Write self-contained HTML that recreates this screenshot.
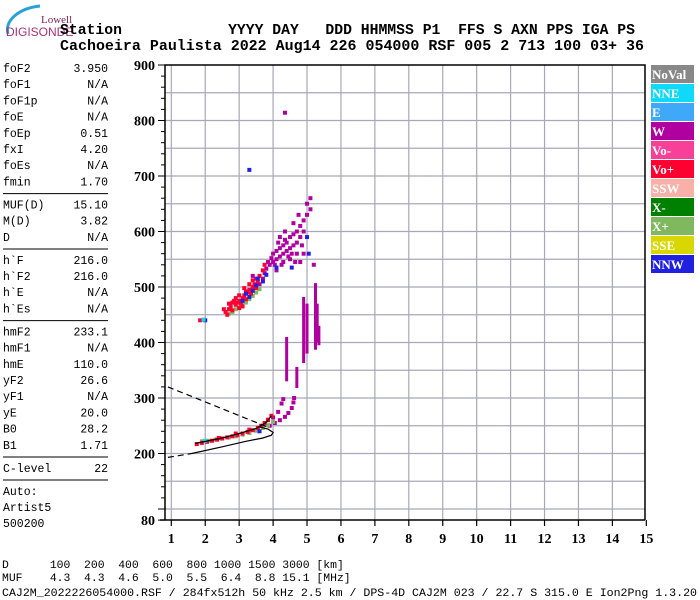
<!DOCTYPE html>
<html><head><meta charset="utf-8"><style>
html,body{margin:0;padding:0;background:#fff;}
svg{display:block;}
text{white-space:pre;}
.mono{font-family:"Liberation Mono",monospace;}
.hdr{font-family:"Liberation Mono",monospace;font-weight:bold;font-size:14.7px;}
.ax{font-family:"Liberation Serif",serif;font-weight:bold;font-size:14px;}
.lg{font-family:"Liberation Serif",serif;font-weight:bold;font-size:13px;fill:#fff;}
</style></head><body>
<svg id="c" width="700" height="600" xmlns="http://www.w3.org/2000/svg"></svg>
<script>
const xTicks=[1,2,3,4,5,6,7,8,9,10,11,12,13,14,15];
const yTicks=[80,200,300,400,500,600,700,800,900];
const paramNames=["foF2","foF1","foF1p","foE","foEp","fxI","foEs","fmin","-","MUF(D)","M(D)","D","-","h`F","h`F2","h`E","h`Es","-","hmF2","hmF1","hmE","yF2","yF1","yE","B0","B1","-","C-level","-"];
const paramValues=["3.950","N/A","N/A","N/A","0.51","4.20","N/A","1.70","","15.10","3.82","N/A","","216.0","216.0","N/A","N/A","","233.1","N/A","110.0","26.6","N/A","20.0","28.2","1.71","","22",""];
const legendNames=["NoVal","NNE","E","W","Vo-","Vo+","SSW","X-","X+","SSE","NNW"];
const legendColors=["#888888","#10d8f8","#40a8f8","#b000a0","#f84098","#ff0030","#f8b0a8","#008000","#80b860","#d8d800","#2020e0"];
const redPts=[[1.75,217],[1.9,219],[2.05,221],[2.2,223],[2.35,225],[2.5,227],[2.65,229],[2.8,231],[2.95,233],[3.1,236],[3.25,239],[3.4,242],[3.55,246],[3.65,250],[3.75,255],[3.85,261],[3.95,268],[2.4,228],[2.9,236],[3.3,243],
[2.6,455],[2.7,460],[2.75,465],[2.8,458],[2.9,468],[2.95,472],[3.0,475],[3.05,470],[3.1,480],[3.15,485],[3.2,478],[3.25,490],[3.3,495],[3.35,488],[3.4,500],[3.45,505],[3.5,498],[3.55,510],[2.85,475],[3.0,485],[3.2,492],[3.3,505],[1.85,440],[1.95,441],[2.7,470],[3.1,465],[3.4,512],[3.6,520],[3.7,530],[3.75,540],[3.0,462],[2.65,450],[2.55,460],[2.9,480],[3.15,498],[2.8,472]];
const greenPts=[[2.7,452],[2.8,455],[2.9,460],[3.0,463],[3.1,468],[3.2,472],[3.3,478],[3.4,484],[3.5,490],[3.6,496],
[1.9,222],[2.1,223],[2.3,225],[2.5,227],[2.7,229],[2.9,231],[3.1,234],[3.3,237],[3.5,241],[3.7,246],[3.85,251],[4.0,257]];
const bluePts=[[2.0,440],[3.1,475],[3.2,488],[3.3,482],[3.4,493],[3.5,503],[3.55,515],[3.7,510],[3.8,522],[4.1,535],[3.3,711],[4.55,535],[5.0,590],[5.05,560],[3.6,240]];
const cyanPts=[[2.0,223],[1.95,441]];
const purplePts=[[3.6,505],[3.7,515],[3.75,525],[3.8,533],[3.9,540],[4.0,545],[4.1,550],[4.0,560],[4.1,565],[4.2,555],[4.3,560],[4.2,570],[4.3,575],[4.4,565],[4.5,570],[4.4,580],[4.5,590],[4.6,575],[4.7,580],[4.6,595],[4.7,600],[4.8,590],[4.8,610],[4.9,600],[4.9,620],[5.0,630],[5.0,650],[5.1,660],[5.1,640],[4.3,545],[4.5,550],[4.7,560],[4.2,590],[4.35,600],[4.6,615],[4.75,630],[4.05,540],[3.95,552],[4.15,580],[4.25,540],[4.45,555],[4.65,545],[4.85,575],[4.9,560],[3.5,515],[3.4,520],[4.35,814],[5.2,540],[4.55,560],[4.35,585],[4.8,545],[3.85,545],[4.1,530],
[3.9,250],[4.05,255],[4.2,260],[4.35,266],[4.45,273],[4.55,282],[4.6,292],[4.62,300],[3.85,260],[4.0,265],[4.15,275],[4.25,290],[4.3,298]];
const purpleStrands=[[4.4,330,410],[4.7,318,356],[4.9,363,482],[5.0,380,470],[5.25,387,507],[5.35,395,430],[5.3,400,470]];
const virtF=[1.7,2.5,3.0,3.5,3.8,3.95];
const virtH=[218,228,236,245,256,268];
const trueF=[1.6,2.5,3.2,3.7,3.95,4.0,3.85,3.6];
const trueH=[200,212,222,228,233,238,244,248];
const dashLoF=[0.9,1.6];
const dashLoH=[193,200];
const dashUpF=[0.9,3.83];
const dashUpH=[320,248];

const NS="http://www.w3.org/2000/svg";
const svg=document.getElementById('c');
const X=f=>171.3+(f-1)*33.93;
const Y=h=>65+(900-h)*0.555;
function el(t,a,p){const e=document.createElementNS(NS,t);for(const k in a)e.setAttribute(k,a[k]);(p||svg).appendChild(e);return e;}
function txt(s,x,y,cls,anchor,extra){const e=el('text',Object.assign({x:x,y:y,class:cls,'text-anchor':anchor||'start'},extra||{}));e.textContent=s;return e;}

const lg=el('g',{});


el('path',{d:'M8,34 C4,20 20,8 40,6',fill:'none',stroke:'#2aa0d8','stroke-width':3},lg);
const lw=txt('Lowell',41,23,'','start',{style:'font-family:Liberation Serif,serif;font-size:11px;fill:#802050'});


const dg=txt('DIGISONDE',6,36,'','start',{style:'font-family:Liberation Sans,sans-serif;font-size:12px;fill:#b03070'});



const h1=txt('Station            YYYY DAY   DDD HHMMSS P1  FFS S AXN PPS IGA PS',60,34,'hdr','start',{textLength:575,lengthAdjust:'spacingAndGlyphs'});


const h2=txt('Cachoeira Paulista 2022 Aug14 226 054000 RSF 005 2 713 100 03+ 36',60,50,'hdr','start',{textLength:584,lengthAdjust:'spacingAndGlyphs'});



let yy=72;
paramNames.forEach((n,i)=>{
  if(n==='-'){const l=el('line',{x1:3,x2:108,y1:yy-8,y2:yy-8,stroke:'#000','stroke-width':1});
    
    
    yy+=6.8;return;}
  const a=txt(n,3,yy,'mono','start',{'font-size':'11.5px'});
  
  
  const b=txt(paramValues[i],108,yy,'mono','end',{'font-size':'11.5px'});
  
  
  yy+=16.2;
});
['Auto:','Artist5','500200'].forEach((s,i)=>{const t=txt(s,3,495+i*16,'mono','start',{'font-size':'11.5px'});
  
  });

for(let h=100;h<=850;h+=50){const l=el('line',{x1:165,x2:645,y1:Y(h),y2:Y(h),stroke:'#a8a8b8','stroke-width':1.2});
  
  }
xTicks.forEach(f=>{if(f<15){const l=el('line',{x1:X(f),x2:X(f),y1:65,y2:520,stroke:'#a8a8b8','stroke-width':1.2});
  
  }});
const fr=el('path',{d:'M165,520 L165,65 L645,65 L645,520 M160,520 L645,520',fill:'none',stroke:'#000','stroke-width':1.5});


for(let h=80;h<=900;h+=20){const major=(h%100===0)||h===80;const l=el('line',{x1:major?158:161,x2:165,y1:Y(h),y2:Y(h),stroke:'#000','stroke-width':1});
  
  }
yTicks.forEach(h=>{const t=txt(String(h),155,Y(h)+5,'ax','end');
  
  });
xTicks.forEach(f=>{const l=el('line',{x1:X(f),x2:X(f),y1:520,y2:526,stroke:'#000','stroke-width':1.2});
  
  
  const t=txt(String(f),X(f),543,'ax','middle');
  
  });

legendNames.forEach((n,i)=>{const y0=65+i*19;
  const r=el('rect',{x:651,y:y0,width:43,height:18,fill:legendColors[i]});
  
  
  const t=txt(n,652,y0+14,'lg');
  
  });

function poly(fs,hs,dash,name){const d=fs.map((f,i)=>(i?'L':'M')+X(f).toFixed(1)+','+Y(hs[i]).toFixed(1)).join(' ');
  const p=el('path',{d:d,fill:'none',stroke:'#000','stroke-width':1.2,'stroke-dasharray':dash||'none'});
  
  }
function pts(arr,col,name){arr.forEach(p=>{const r=el('rect',{x:X(p[0])-2,y:Y(p[1])-2,width:4,height:4,fill:col});
  
  });}
pts(purplePts,'#b000a0','echo-w');
purpleStrands.forEach(s=>{const r=el('rect',{x:X(s[0])-1.5,y:Y(s[2]),width:3,height:Y(s[1])-Y(s[2]),fill:'#b000a0'});
  
  });
pts(greenPts,'#80b860','echo-x-plus');
pts(redPts,'#ff0030','echo-vo-plus');
pts(bluePts,'#2020e0','echo-nnw');
pts(cyanPts,'#10d8f8','echo-nne');
poly(virtF,virtH,null,'virtual-height-curve');
poly(trueF,trueH,null,'true-height-profile');
poly(dashLoF,dashLoH,'6,4','profile-extrapolation-lower');
poly(dashUpF,dashUpH,'6,4','profile-extrapolation-upper');

const ft=[['D      100  200  400  600  800 1000 1500 3000 [km]',568,'mufd-distance-row'],
['MUF    4.3  4.3  4.6  5.0  5.5  6.4  8.8 15.1 [MHz]',581,'muf-row'],
['CAJ2M_2022226054000.RSF / 284fx512h 50 kHz 2.5 km / DPS-4D CAJ2M 023 / 22.7 S 315.0 E Ion2Png 1.3.20',596,'file-info']];
ft.forEach(r=>{const t=txt(r[0],2,r[1],'mono','start',{'font-size':'11.4px'});
  if(r[2]==='file-info'){t.setAttribute('textLength','695');t.setAttribute('lengthAdjust','spacingAndGlyphs');}
  
  });
</script>
</body></html>
